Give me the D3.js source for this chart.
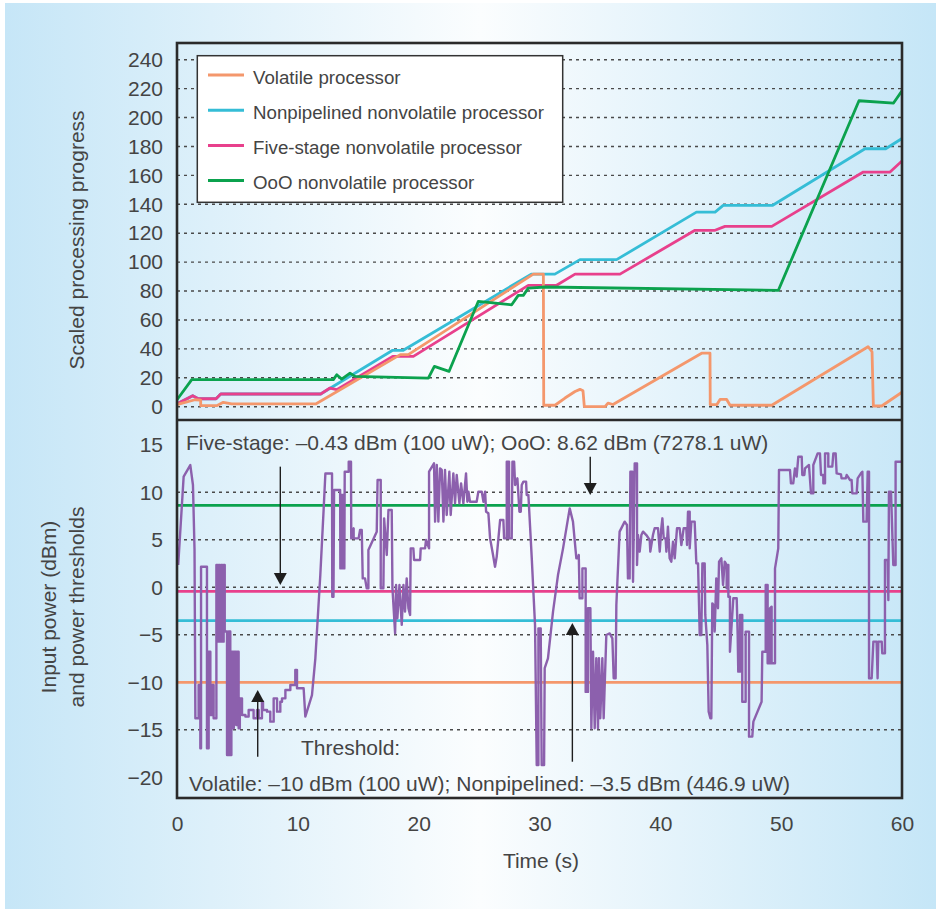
<!DOCTYPE html>
<html>
<head>
<meta charset="utf-8">
<script src="https://cdn.jsdelivr.net/npm/d3@7"></script>
<style>
  body { margin: 0; background: #fff; }
  svg { display: block; }
  text { font-family: "Liberation Sans", Arial, sans-serif; fill: #444; }
</style>
</head>
<body>
<script>
const width = 936;
const height = 909;

// ---- data (time in s) ----
const xTicks = [0, 10, 20, 30, 40, 50, 60];
const progressTicks = [0, 20, 40, 60, 80, 100, 120, 140, 160, 180, 200, 220, 240];
const powerTicks = [-20, -15, -10, -5, 0, 5, 10, 15];
const powerGrid = [-15, -10, -5, 0, 5, 10];

const seriesNames = ["Volatile processor", "Nonpipelined nonvolatile processor", "Five-stage nonvolatile processor", "OoO nonvolatile processor"];
const seriesColors = ["#f4976c", "#35bdd6", "#e8408c", "#0ba24e"];

const volatile = [
  [0, 1.5], [1.49, 4.8], [1.96, 4.5], [1.96, 0.7], [3.29, 0.7], [3.83, 3], [4.53, 1.9], [11.48, 1.9],
  [18.48, 36], [19.14, 36], [29.49, 91.7], [30.32, 91.7], [30.35, 1], [31.28, 1], [32.11, 6],
  [32.94, 10.5], [33.35, 12], [33.6, 11], [33.71, 0], [35.42, 0], [35.67, 2.5], [36.08, 1.5],
  [43.42, 37], [44.11, 37], [44.13, 1.4], [44.67, 1.4], [44.94, 5], [45.49, 5], [45.77, 1],
  [49.22, 1], [57.19, 41.5], [57.52, 38], [57.63, 0.5], [58.32, 0.5], [60, 10]
];
const nonpipelined = [
  [0, 1.9], [1.3, 7.6], [1.76, 5.5], [3.23, 5.5], [3.62, 8.8], [11.89, 8.8], [17.85, 39],
  [18.73, 39], [29.32, 91.7], [31.27, 91.7], [33.35, 101.7], [36.38, 101.7], [42.99, 134.6],
  [44.53, 134.6], [45.2, 139.2], [49.27, 139.2], [56.94, 178.4], [58.65, 178.4], [60, 185.5]
];
const fiveStage = [
  [0, 1.9], [1.3, 7.6], [1.76, 5.5], [3.23, 5.5], [3.62, 8.8], [11.89, 8.8], [12.66, 12.9],
  [13.22, 11.8], [17.85, 34.8], [19.56, 34.8], [29.07, 83.9], [31.42, 84], [32.94, 91.7],
  [36.66, 91.7], [42.87, 122], [44.53, 122], [45.35, 124.7], [49.22, 124.7], [56.8, 162.3],
  [59.01, 162.3], [60, 170]
];
const ooo = [
  [0, 4.8], [1.22, 18.7], [12.94, 18.7], [13.22, 22.1], [13.63, 19.1], [14.32, 23.2], [14.73, 21],
  [20.8, 19.8], [21.3, 27.9], [22.51, 24.4], [24.93, 72.8], [27.7, 70.5], [28.24, 77], [28.66, 77],
  [29.07, 82], [30.5, 82.8], [49.77, 80.5], [56.44, 211.6], [59.3, 210], [60, 218.5]
];

// thresholds in dBm: volatile, nonpipelined, five-stage, OoO
const thresholdValues = [-10, -3.5, -0.43, 8.62];

const inputPower = [
  [0.1, 2.35], [0.55, 11.65], [1.1, 12.87], [1.32, 10.77], [1.45, 4], [1.52, -13.79], [1.79, -13.79],
  [1.79, -10.28], [1.93, -10.28], [1.93, -16.95], [1.99, -16.95], [1.99, 2.17], [2.48, 2.17],
  [2.48, -16.95], [2.62, -16.95], [2.62, -6.78], [2.76, -6.78], [2.76, -13.44], [2.9, -13.44],
  [2.9, -10.28], [3.03, -10.28], [3.03, -13.79], [3.26, -13.79], [3.26, 2.35], [3.35, 2.35],
  [3.35, -5.72], [3.45, -5.72], [3.45, 2.35], [3.55, 2.35], [3.55, -5.72], [3.65, -5.72],
  [3.65, 2.35], [3.75, 2.35], [3.75, -5.72], [3.86, -5.72], [3.86, 2.35], [3.95, 2.35],
  [3.95, -4.66], [4.14, -4.66], [4.14, -17.65], [4.28, -17.65], [4.28, -4.66], [4.41, -4.66],
  [4.41, -17.65], [4.5, -17.65], [4.5, -6.78], [4.62, -6.78], [4.62, -14.84], [4.7, -14.84],
  [4.7, -6.78], [4.9, -6.78], [4.9, -14.5], [5.0, -14.5], [5.0, -6.78], [5.1, -6.78], [5.1, -14.84],
  [5.2, -14.84], [5.2, -11.69], [5.38, -11.69], [5.38, -13.44], [5.66, -13.44], [5.66, -13.61],
  [5.93, -13.61], [5.93, -12.92], [6.34, -12.92], [6.34, -13.79], [6.62, -13.79], [6.62, -12.92],
  [6.76, -12.92], [6.76, -13.79], [7.03, -13.79], [7.03, -12.04], [7.12, -12.04], [7.12, -12.92],
  [7.45, -12.92], [7.45, -13.09], [7.72, -13.09], [7.72, -14.14], [8.0, -14.14], [8.0, -11.69],
  [8.28, -11.69], [8.28, -13.09], [8.55, -13.09], [8.55, -12.04], [8.69, -12.04], [8.69, -11.69],
  [8.97, -11.69], [8.97, -10.81], [9.38, -10.81], [9.38, -10.28], [9.79, -10.28], [9.79, -8.71],
  [9.93, -8.71], [9.93, -10.63], [10.48, -10.63], [10.62, -13.61], [11.17, -11.34], [11.45, -7.47],
  [11.86, 1.29], [12.14, 8.31], [12.28, 11.98], [12.83, 11.98], [12.85, -0.99], [12.95, -0.99],
  [13.0, 10.24], [13.5, 10.24], [13.52, 1.99], [13.6, 1.99], [13.62, 9.72], [13.75, 9.72],
  [13.77, 1.99], [13.85, 1.99], [13.88, 12.17], [14.21, 12.17], [14.21, 13.22], [14.4, 13.22],
  [14.42, 5.15], [14.62, 6.21], [14.62, 5.15], [15.03, 5.15],
  [15.15, 6.03], [15.29, 6.03], [15.37, 0.94], [15.56, 0.94], [15.7, -0.1], [15.84, -0.1],
  [15.84, 3.93], [16.53, 5.86], [16.6, 11.29], [16.86, 11.29], [16.86, -0.1], [17.08, -0.1],
  [17.14, 7.26], [17.36, 3.4], [17.5, 8.14], [17.77, 8.14], [17.83, -0.1], [18.05, -4.85],
  [18.13, 0.24], [18.24, -3.26], [18.41, 0.24], [18.6, -3.96], [18.74, 0.24], [18.87, -2.56],
  [19.01, 0.94], [19.15, -2.21], [19.29, -2.91], [19.34, 4.1], [19.56, 4.1], [19.62, 2.87],
  [20.12, 2.87], [20.17, 4.1], [20.53, 4.1], [20.61, 4.98], [20.86, 4.1], [20.86, 12.17],
  [21.27, 13.05], [21.36, 6.91], [21.5, 12.87], [21.63, 6.91], [21.77, 12.52], [21.91, 12.35],
  [22.05, 6.91], [22.18, 12.35], [22.32, 7.61], [22.54, 12.17], [22.65, 7.61], [22.87, 11.99],
  [23.01, 8.84], [23.15, 11.82], [23.37, 8.84], [23.51, 10.94], [23.7, 8.84], [23.92, 11.99],
  [24.03, 9.01], [24.12, 10.07], [24.25, 9.01], [24.8, 9.01], [24.94, 10.07], [25.22, 10.07],
  [25.36, 9.01], [25.5, 10.07], [25.58, 7.96], [25.77, 7.79], [25.91, 5.15], [26.13, 3.58],
  [26.32, 2.17], [26.46, 3.23], [26.74, 7.08], [27.01, 7.08], [27.07, 5.15], [27.29, 5.15],
  [27.29, 13.22], [27.48, 13.22], [27.48, 5.15], [27.7, 5.15], [27.76, 13.22], [27.9, 13.22],
  [27.98, 10.77], [28.17, 11.47], [28.34, 7.96], [28.45, 7.96], [28.53, 10.77], [28.67, 11.12],
  [28.89, 11.12], [28.94, 9.72], [29.08, 9.72], [29.36, 3.05], [29.63, -3.96], [29.77, -18.71],
  [29.91, -18.71], [29.91, -4.32], [30.1, -4.32], [30.18, -18.71], [30.38, -18.71],
  [30.43, -8.5], [30.7, -7.47], [31.12, -2.56], [31.53, 1.29], [31.95, 4.1], [32.5, 8.31],
  [32.77, 6.91], [33.05, 3.05], [33.19, 3.05], [33.25, 3.4], [33.32, -1.16], [33.55, -1.16],
  [33.55, 1.99], [33.82, 1.99], [33.82, -11.01], [34.01, -11.01], [34.01, -2.21], [34.21, -2.21],
  [34.29, -14.84], [34.43, -6.78], [34.57, -14.84], [34.7, -7.47], [34.84, -14.84], [34.92, -7.47],
  [35.03, -13.79], [35.2, -7.47], [35.31, -13.79], [35.53, -5.02], [35.81, -4.85], [36.03, -5.37],
  [36.14, -9.58], [36.3, -9.58], [36.36, -1.86], [36.63, 5.86], [37.05, 6.91], [37.24, 6.56],
  [37.32, 0.94], [37.46, 0.94], [37.52, 12.17], [37.68, 12.17], [37.74, 0.59], [37.88, 13.05],
  [38.07, 13.05], [38.07, 2.35], [38.15, 5.5], [38.29, 3.75], [38.43, 5.5], [38.57, 5.86],
  [38.84, 5.5], [39.12, 4.98], [39.17, 3.75], [39.39, 5.5], [39.53, 6.21], [39.81, 6.21],
  [39.95, 3.75], [40.08, 6.21], [40.17, 7.26], [40.28, 5.15], [40.44, 5.15], [40.5, 3.75],
  [40.63, 6.39], [40.77, 3.05], [40.91, 2.7], [41.05, 4.8], [41.19, 3.05], [41.38, 6.21],
  [41.6, 6.21], [41.74, 4.45], [41.93, 6.21], [42.15, 6.21], [42.21, 4.45], [42.29, 7.96],
  [42.43, 7.96], [42.43, 4.1], [42.57, 6.91], [42.84, 6.91], [42.98, 2.52], [43.12, 2.52],
  [43.26, -5.02], [43.39, -5.02], [43.48, 2.52], [43.67, 2.52], [43.72, -2.91], [43.89, -6.07],
  [44.0, -13.09], [44.14, -13.79], [44.22, -13.79], [44.3, -1.69], [44.41, -1.86], [44.5, -4.67],
  [44.63, 0.94], [44.77, -2.21], [44.86, 2.7], [45.05, 3.05], [45.19, 0.24], [45.33, 2.7],
  [45.49, 2.35], [45.49, -0.1], [45.63, 2.35], [45.63, -0.99], [45.76, -0.99], [45.76, -6.78],
  [45.9, -3.96], [46.04, -1.16], [46.32, -1.16], [46.4, -5.02], [46.45, -8.88], [46.59, -8.88],
  [46.59, -2.91], [46.78, -2.91], [46.78, -12.04], [47.06, -12.04], [47.06, -4.67], [47.34, -4.67],
  [47.34, -15.72], [47.61, -15.72], [47.7, -14.14], [48.38, -12.04], [48.44, -6.78], [48.72, -6.78],
  [48.72, 0.24], [48.88, 0.24], [48.88, -8.0], [49.07, -8.0], [49.07, -2.21], [49.21, -2.04],
  [49.21, -8.0], [49.49, -8.0], [49.49, 1.99], [49.76, 4.1], [49.82, 12.35], [50.73, 12.35],
  [50.81, 10.94], [51.0, 10.94], [51.14, 12.52], [51.28, 11.65], [51.42, 13.75], [51.7, 13.75],
  [51.75, 11.82], [51.92, 11.82], [51.97, 12.52], [52.3, 12.87], [52.47, 9.89], [52.66, 9.89],
  [52.66, 12.87], [53.02, 14.1], [53.21, 14.1], [53.3, 11.82], [53.49, 11.82], [53.49, 10.94],
  [53.63, 10.94], [53.63, 14.1], [53.9, 14.1], [53.9, 12.7], [54.23, 12.7], [54.32, 14.1],
  [54.51, 14.1], [54.59, 11.99], [54.95, 11.89], [55.0, 11.47], [55.34, 11.47], [55.42, 11.82],
  [55.7, 11.3], [55.83, 11.3], [55.89, 9.89], [56.25, 9.89], [56.33, 11.47], [56.6, 11.99],
  [56.72, 12.17], [56.8, 6.91], [57.07, 6.91], [57.16, 12.17], [57.27, 12.17], [57.27, -9.58],
  [57.49, -9.58], [57.63, -5.72], [57.9, -5.72], [57.98, -9.58], [58.04, -5.72], [58.32, -5.72],
  [58.37, -6.95], [58.59, -6.95], [58.59, 2.87], [58.81, 2.87], [58.87, -1.34], [58.92, 10.07],
  [59.09, 10.07], [59.28, 2.35], [59.47, 2.35], [59.47, 13.22], [60, 13.22]
];

// annotation arrows: [time, from dBm, to dBm]
const arrows = [[8.55, 12.7, 0.24], [34.2, 13.75, 9.72], [6.68, -17.83, -10.81], [32.72, -18.36, -3.76]];

// ---- layout ----
const plotLeft = 177;
const plotRight = 902;
const plotTop = 43;
const plotMid = 420;
const plotBottom = 798;

const svg = d3.select("body").append("svg")
  .attr("width", width)
  .attr("height", height)
  .attr("viewBox", [0, 0, width, height]);

const defs = svg.append("defs");
const grad = defs.append("linearGradient").attr("id", "bg")
  .attr("x1", 0).attr("x2", 1).attr("y1", 0).attr("y2", 0);
grad.selectAll("stop")
  .data([[0, "#c6e6f7"], [0.51, "#fbfdfe"], [1, "#c5e6f7"]])
  .join("stop")
  .attr("offset", d => d[0])
  .attr("stop-color", d => d[1]);

svg.append("rect")
  .attr("x", 5).attr("y", 3)
  .attr("width", width - 5).attr("height", height - 3)
  .attr("fill", "url(#bg)");

defs.append("clipPath").attr("id", "clipTop").append("rect")
  .attr("x", plotLeft).attr("y", plotTop)
  .attr("width", plotRight - plotLeft).attr("height", plotMid - plotTop);
defs.append("clipPath").attr("id", "clipBot").append("rect")
  .attr("x", plotLeft).attr("y", plotMid)
  .attr("width", plotRight - plotLeft).attr("height", plotBottom - plotMid);

const x = d3.scaleLinear([0, 60], [plotLeft, plotRight]);
const yTop = d3.scaleLinear([0, 240], [406.7, 59.7]);
const yBot = d3.scaleLinear([-20, 15], [777.3, 444.8]);

// ---- top panel ----
svg.append("g")
  .attr("stroke", "#4a4a4a")
  .attr("stroke-width", 1.4)
  .attr("stroke-dasharray", "3,4")
  .selectAll("line")
  .data(progressTicks)
  .join("line")
  .attr("x1", plotLeft).attr("x2", plotRight)
  .attr("y1", d => yTop(d)).attr("y2", d => yTop(d));

const topLine = d3.line().x(d => x(d[0])).y(d => yTop(d[1]));
const topSeries = [nonpipelined, fiveStage, volatile, ooo];
const topColors = [seriesColors[1], seriesColors[2], seriesColors[0], seriesColors[3]];

svg.append("g")
  .attr("clip-path", "url(#clipTop)")
  .selectAll("path")
  .data(topSeries)
  .join("path")
  .attr("fill", "none")
  .attr("stroke", (d, i) => topColors[i])
  .attr("stroke-width", 2.8)
  .attr("stroke-linejoin", "round")
  .attr("d", topLine);

// legend
const legend = svg.append("g");
legend.append("rect")
  .attr("x", 197.3).attr("y", 55.7)
  .attr("width", 365.4).attr("height", 146.6)
  .attr("fill", "#fff")
  .attr("stroke", "#333")
  .attr("stroke-width", 1.5);
const entry = legend.selectAll("g.entry")
  .data(seriesNames)
  .join("g")
  .attr("class", "entry")
  .attr("transform", (d, i) => `translate(0,${75 + i * 35.2})`);
entry.append("line")
  .attr("x1", 208).attr("x2", 244)
  .attr("stroke", (d, i) => seriesColors[i])
  .attr("stroke-width", 3);
entry.append("text")
  .attr("x", 253).attr("y", 8.5)
  .attr("font-size", 18.7)
  .text(d => d);

// ---- bottom panel ----
svg.append("g")
  .attr("stroke", "#4a4a4a")
  .attr("stroke-width", 1.4)
  .attr("stroke-dasharray", "3,4")
  .selectAll("line")
  .data(powerGrid)
  .join("line")
  .attr("x1", plotLeft).attr("x2", plotRight)
  .attr("y1", d => yBot(d)).attr("y2", d => yBot(d));

svg.append("g")
  .selectAll("line")
  .data(thresholdValues)
  .join("line")
  .attr("x1", plotLeft).attr("x2", plotRight)
  .attr("y1", d => yBot(d)).attr("y2", d => yBot(d))
  .attr("stroke", (d, i) => seriesColors[i])
  .attr("stroke-width", 2.8);

svg.append("path")
  .datum(inputPower)
  .attr("clip-path", "url(#clipBot)")
  .attr("fill", "none")
  .attr("stroke", "#8c60ad")
  .attr("stroke-width", 2.4)
  .attr("stroke-linejoin", "round")
  .attr("d", d3.line().x(d => x(d[0])).y(d => yBot(d[1])));

// arrows
const arrowG = svg.append("g").attr("fill", "#1e1e1e").attr("stroke", "#1e1e1e");
arrows.forEach(([t, v0, v1]) => {
  const ax = x(t);
  const y0 = yBot(v0);
  const y1 = yBot(v1);
  const dir = y1 > y0 ? 1 : -1;
  arrowG.append("line")
    .attr("x1", ax).attr("x2", ax)
    .attr("y1", y0).attr("y2", y1 - dir * 10)
    .attr("stroke-width", 1.4);
  arrowG.append("path")
    .attr("stroke", "none")
    .attr("d", `M${ax},${y1}L${ax - 6.5},${y1 - dir * 12}L${ax + 6.5},${y1 - dir * 12}Z`);
});

// annotation text
const ann = svg.append("g").attr("font-size", 21);
ann.append("text")
  .attr("x", x(0.74)).attr("y", yBot(14.5))
  .text("Five-stage: \u20130.43 dBm (100 uW); OoO: 8.62 dBm (7278.1 uW)");
ann.append("text")
  .attr("x", x(10.26)).attr("y", yBot(-17.65))
  .text("Threshold:");
ann.append("text")
  .attr("x", x(0.99)).attr("y", yBot(-21.44))
  .text("Volatile: \u201310 dBm (100 uW); Nonpipelined: \u20133.5 dBm (446.9 uW)");

// ---- frame ----
svg.append("rect")
  .attr("x", plotLeft).attr("y", plotTop)
  .attr("width", plotRight - plotLeft).attr("height", plotBottom - plotTop)
  .attr("fill", "none")
  .attr("stroke", "#2a2a2a")
  .attr("stroke-width", 2.6);
svg.append("line")
  .attr("x1", plotLeft).attr("x2", plotRight)
  .attr("y1", plotMid).attr("y2", plotMid)
  .attr("stroke", "#2a2a2a")
  .attr("stroke-width", 2.6);

// ---- axes ----
function styleAxis(g) {
  g.select(".domain").remove();
  g.attr("font-family", null).attr("font-size", null);
  g.selectAll("text").attr("font-size", 21).attr("fill", "#444");
}

svg.append("g")
  .attr("transform", `translate(${plotLeft},0)`)
  .call(d3.axisLeft(yTop).tickValues(progressTicks).tickSize(0).tickPadding(14))
  .call(styleAxis);

svg.append("g")
  .attr("transform", `translate(${plotLeft},0)`)
  .call(d3.axisLeft(yBot).tickValues(powerTicks).tickSize(0).tickPadding(14))
  .call(styleAxis);

svg.append("g")
  .attr("transform", `translate(0,${plotBottom})`)
  .call(d3.axisBottom(x).tickValues(xTicks).tickSize(0).tickPadding(18))
  .call(styleAxis);

// axis titles
svg.append("text")
  .attr("x", 541).attr("y", 868)
  .attr("text-anchor", "middle")
  .attr("font-size", 21)
  .text("Time (s)");

svg.append("text")
  .attr("transform", "translate(84,240) rotate(-90)")
  .attr("text-anchor", "middle")
  .attr("font-size", 21)
  .text("Scaled processing progress");

svg.append("text")
  .attr("transform", "translate(56,607) rotate(-90)")
  .attr("text-anchor", "middle")
  .attr("font-size", 21)
  .text("Input power (dBm)");

svg.append("text")
  .attr("transform", "translate(84,607) rotate(-90)")
  .attr("text-anchor", "middle")
  .attr("font-size", 21)
  .text("and power thresholds");
</script>
</body>
</html>
